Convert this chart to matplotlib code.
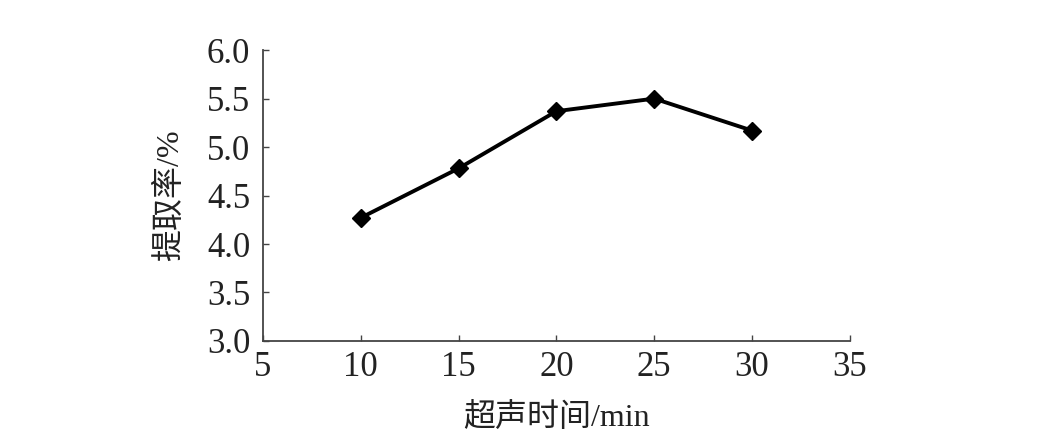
import matplotlib
matplotlib.use('Agg')
import matplotlib.pyplot as plt

# data
time_min = [10, 15, 20, 25, 30]
extract_rate = [4.27, 4.78, 5.37, 5.50, 5.17]

x_ticks = [5, 10, 15, 20, 25, 30, 35]
y_ticks = [3.0, 3.5, 4.0, 4.5, 5.0, 5.5, 6.0]

plt.rcParams['font.family'] = ['Liberation Serif', 'Noto Sans CJK SC']

fig = plt.figure(figsize=(10.39, 4.36), dpi=100)
ax = fig.add_axes([0.253, 0.218, 0.565, 0.667])

ax.plot(time_min, extract_rate, color='black', linewidth=2.8,
        marker='D', markersize=9)

ax.set_xlim(5, 35)
ax.set_ylim(3.0, 6.0)
ax.set_xticks(x_ticks)
ax.set_yticks(y_ticks)
ax.set_yticklabels(['%.1f' % v for v in y_ticks])

for side in ['top', 'right']:
    ax.spines[side].set_visible(False)
for side in ['left', 'bottom']:
    ax.spines[side].set_color('#444444')
    ax.spines[side].set_linewidth(1.3)

ax.tick_params(direction='in', length=4, width=1, colors='#444444',
               labelcolor='#222222', labelsize=25)
ax.tick_params(axis='y', pad=9)
ax.tick_params(axis='x', pad=7)

ax.set_xlabel('超声时间/min', fontsize=23, color='#222222', labelpad=14)
ax.set_ylabel('提取率/%', fontsize=23, color='#222222', labelpad=16)

fig.savefig('out.png', dpi=100)
